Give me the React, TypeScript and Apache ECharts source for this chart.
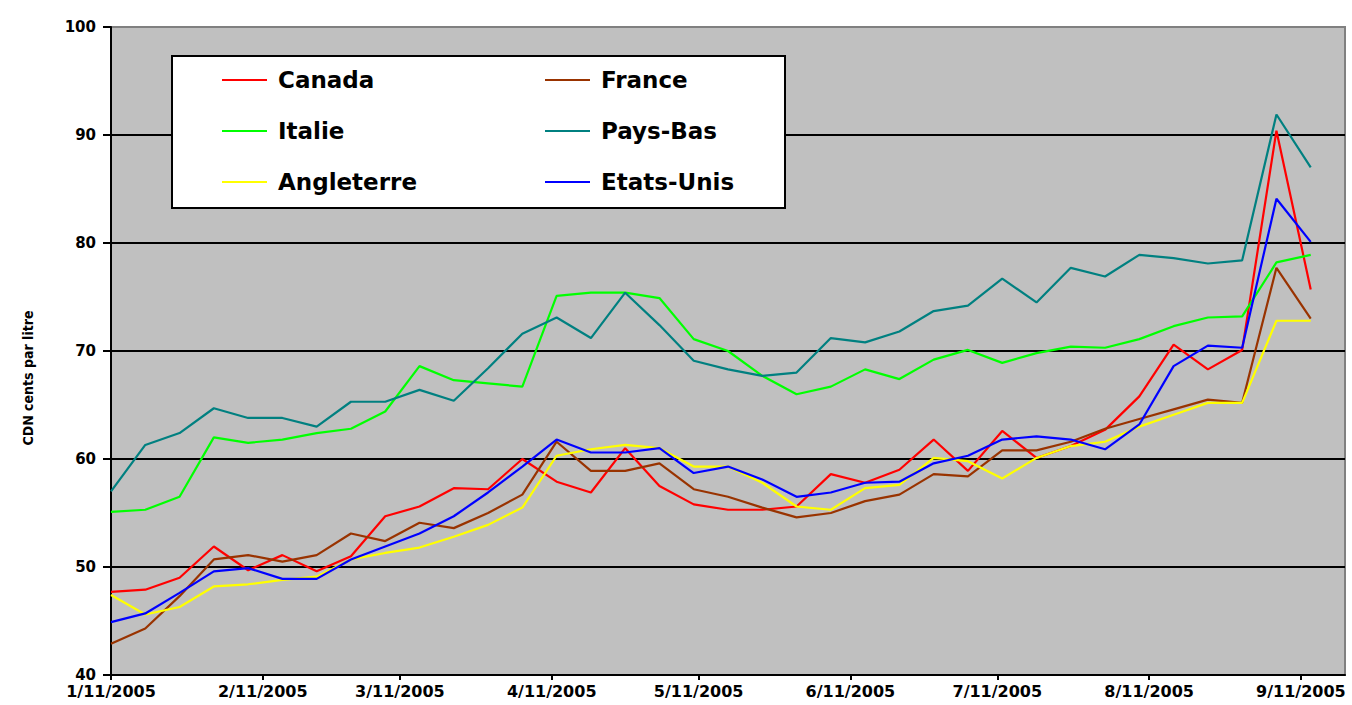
import React, { useEffect, useRef } from "react";
import * as echarts from "echarts";

const dates = [
  "2005-01-11", "2005-01-18", "2005-01-25", "2005-02-01", "2005-02-08", "2005-02-15",
  "2005-02-22", "2005-03-01", "2005-03-08", "2005-03-15", "2005-03-22", "2005-03-29",
  "2005-04-05", "2005-04-12", "2005-04-19", "2005-04-26", "2005-05-03", "2005-05-10",
  "2005-05-17", "2005-05-24", "2005-05-31", "2005-06-07", "2005-06-14", "2005-06-21",
  "2005-06-28", "2005-07-05", "2005-07-12", "2005-07-19", "2005-07-26", "2005-08-02",
  "2005-08-09", "2005-08-16", "2005-08-23", "2005-08-30", "2005-09-06", "2005-09-13",
];

const tickLabels = [
  "1/11/2005", "2/11/2005", "3/11/2005", "4/11/2005", "5/11/2005",
  "6/11/2005", "7/11/2005", "8/11/2005", "9/11/2005",
];

const canada = [
  47.7, 47.9, 49.0, 51.9, 49.7, 51.1, 49.6, 51.0, 54.7, 55.6, 57.3, 57.2,
  60.0, 57.9, 56.9, 61.0, 57.5, 55.8, 55.3, 55.3, 55.6, 58.6, 57.8, 59.0,
  61.8, 58.9, 62.6, 60.1, 61.2, 62.7, 65.8, 70.6, 68.3, 70.1, 90.4, 75.7,
];
const france = [
  42.9, 44.3, 47.3, 50.7, 51.1, 50.5, 51.1, 53.1, 52.4, 54.1, 53.6, 55.0,
  56.7, 61.6, 58.9, 58.9, 59.6, 57.2, 56.5, 55.5, 54.6, 55.0, 56.1, 56.7,
  58.6, 58.4, 60.8, 60.8, 61.6, 62.8, 63.7, 64.6, 65.5, 65.2, 77.7, 73.0,
];
const italie = [
  55.1, 55.3, 56.5, 62.0, 61.5, 61.8, 62.4, 62.8, 64.4, 68.6, 67.3, 67.0,
  66.7, 75.1, 75.4, 75.4, 74.9, 71.1, 70.0, 67.7, 66.0, 66.7, 68.3, 67.4,
  69.2, 70.1, 68.9, 69.8, 70.4, 70.3, 71.1, 72.3, 73.1, 73.2, 78.2, 78.9,
];
const paysBas = [
  57.0, 61.3, 62.4, 64.7, 63.8, 63.8, 63.0, 65.3, 65.3, 66.4, 65.4, 68.4,
  71.6, 73.1, 71.2, 75.4, 72.4, 69.1, 68.3, 67.7, 68.0, 71.2, 70.8, 71.8,
  73.7, 74.2, 76.7, 74.5, 77.7, 76.9, 78.9, 78.6, 78.1, 78.4, 91.9, 87.0,
];
const angleterre = [
  47.4, 45.6, 46.3, 48.2, 48.4, 48.8, 49.1, 50.7, 51.3, 51.8, 52.8, 53.9,
  55.5, 60.3, 60.9, 61.3, 61.0, 59.3, 59.3, 57.8, 55.6, 55.3, 57.3, 57.6,
  60.1, 59.8, 58.2, 60.1, 61.2, 61.6, 63.0, 64.1, 65.2, 65.2, 72.8, 72.8,
];
const etatsUnis = [
  44.9, 45.7, 47.6, 49.6, 49.9, 48.9, 48.9, 50.7, 51.9, 53.1, 54.7, 56.9,
  59.3, 61.8, 60.6, 60.6, 61.0, 58.7, 59.3, 58.1, 56.5, 56.9, 57.8, 57.9,
  59.6, 60.3, 61.8, 62.1, 61.8, 60.9, 63.2, 68.6, 70.5, 70.3, 84.1, 80.1,
];

const seriesNames = ["Canada", "France", "Italie", "Pays-Bas", "Angleterre", "Etats-Unis"];
const seriesValues = [canada, france, italie, paysBas, angleterre, etatsUnis];
const seriesColors = ["#FF0000", "#993300", "#00FF00", "#008080", "#FFFF00", "#0000FF"];

const legendLeftColumn = ["Canada", "Italie", "Angleterre"];
const legendRightColumn = ["France", "Pays-Bas", "Etats-Unis"];

const yTitle = "CDN cents par litre";

function isoToTs(s: string): number {
  const [y, m, d] = s.split("-").map(Number);
  return new Date(y, m - 1, d).getTime();
}
function mdyToTs(s: string): number {
  const [m, d, y] = s.split("/").map(Number);
  return new Date(y, m - 1, d).getTime();
}

export default function App() {
  const ref = useRef<HTMLDivElement | null>(null);

  useEffect(() => {
    if (!ref.current) return;
    const chart = echarts.init(ref.current, undefined, { renderer: "svg" });
    const tickTs = tickLabels.map(mdyToTs);
    const font = "DejaVu Sans";

    const legendCommon = {
      orient: "vertical" as const,
      top: 63,
      itemWidth: 45,
      itemHeight: 2,
      itemGap: 27,
      icon: "rect",
      z: 6,
      textStyle: {
        fontFamily: font,
        fontWeight: "bold" as const,
        fontSize: 23,
        color: "#000",
        lineHeight: 24,
        padding: [0, 0, 0, 6],
      },
    };

    chart.setOption({
      animation: false,
      backgroundColor: "#FFFFFF",
      textStyle: { fontFamily: font },
      grid: {
        left: 111,
        right: 7,
        top: 27,
        bottom: 30,
        show: true,
        backgroundColor: "#C0C0C0",
        borderColor: "#808080",
        borderWidth: 2,
      },
      legend: [
        { ...legendCommon, left: 217, data: legendLeftColumn },
        { ...legendCommon, left: 540, data: legendRightColumn },
      ],
      graphic: [
        {
          type: "rect",
          z: 5,
          shape: { x: 172, y: 56, width: 613, height: 152 },
          style: { fill: "#FFFFFF", stroke: "#000000", lineWidth: 2 },
        },
        {
          type: "text",
          x: 28,
          y: 378,
          rotation: Math.PI / 2,
          style: {
            text: yTitle,
            x: 0,
            y: 0,
            align: "center",
            verticalAlign: "middle",
            font: "bold 14px 'Liberation Sans Narrow', 'DejaVu Sans Condensed', 'DejaVu Sans', Arial",
            fill: "#000",
          },
        },
      ],
      xAxis: {
        type: "value",
        min: isoToTs("2005-01-11"),
        max: isoToTs("2005-09-20"),
        axisLine: { show: true, lineStyle: { color: "#000", width: 2 } },
        axisTick: {
          show: true,
          customValues: tickTs,
          length: 5,
          lineStyle: { color: "#000", width: 2 },
        },
        axisLabel: {
          customValues: tickTs,
          formatter: (v: number) => {
            const d = new Date(v);
            return `${d.getMonth() + 1}/${d.getDate()}/${d.getFullYear()}`;
          },
          fontFamily: font,
          fontWeight: "bold",
          fontSize: 16,
          color: "#000",
          margin: 8,
          showMinLabel: true,
          showMaxLabel: true,
        },
        splitLine: { show: false },
      },
      yAxis: {
        type: "value",
        min: 40,
        max: 100,
        interval: 10,
        axisLine: { show: true, lineStyle: { color: "#000", width: 2 } },
        axisTick: { show: true, length: 8, lineStyle: { color: "#000", width: 2 } },
        axisLabel: {
          fontFamily: font,
          fontWeight: "bold",
          fontSize: 15,
          color: "#000",
          margin: 15,
        },
        splitLine: {
          show: true,
          showMaxLine: false,
          lineStyle: { color: "#000", width: 2 },
        },
      },
      series: seriesNames.map((name, k) => ({
        name,
        type: "line",
        symbol: "none",
        showSymbol: false,
        z: 2 + k * 0.01,
        color: seriesColors[k],
        lineStyle: { width: 2.2, color: seriesColors[k] },
        data: dates.map((d, i) => [isoToTs(d), seriesValues[k][i]]),
      })),
    });

    return () => chart.dispose();
  }, []);

  return (
    <div
      ref={ref}
      style={{ position: "fixed", left: 0, top: 0, width: 1352, height: 705 }}
    />
  );
}
